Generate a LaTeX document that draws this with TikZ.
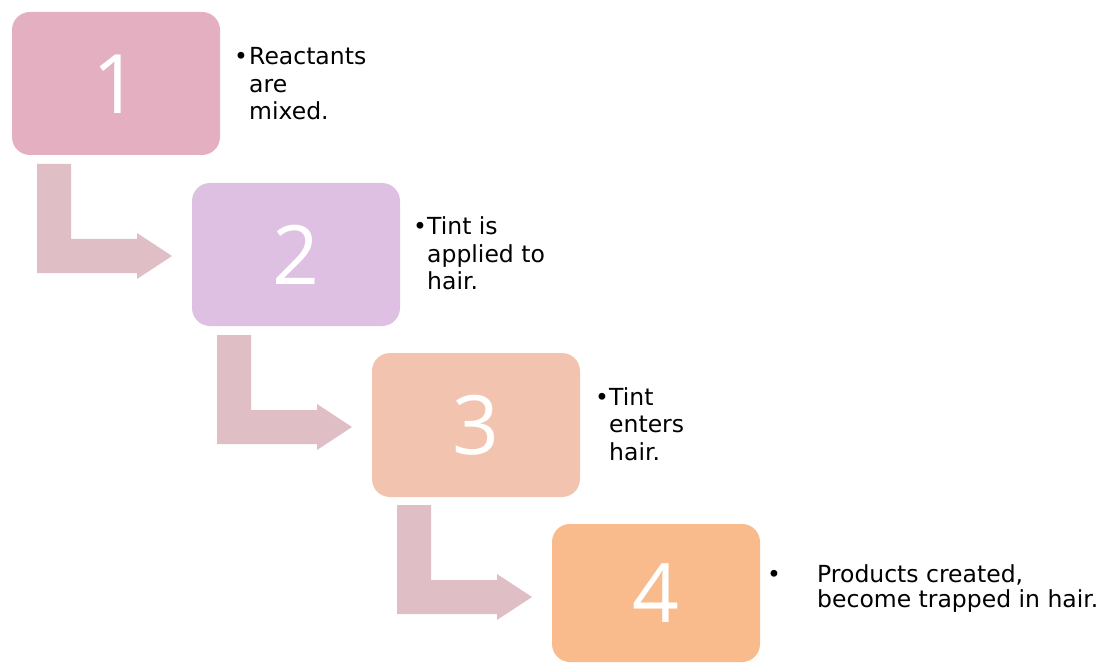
\documentclass[tikz,border=0pt]{standalone}
\usepackage{fontspec}
\setmainfont{DejaVu Sans}
\newfontfamily\digitfont{Open Sans}
\definecolor{cbox1}{HTML}{E4AFC1}
\definecolor{cbox2}{HTML}{DEC1E2}
\definecolor{cbox3}{HTML}{F2C4AF}
\definecolor{cbox4}{HTML}{F9BB8B}
\definecolor{carrow}{HTML}{DFBEC6}
\newcommand\mylines[1]{\vtop{\halign{##\hfil\cr#1\crcr}}}
\tikzset{
  numtxt/.style={text=white, font=\digitfont\fontsize{82}{82}\selectfont},
  desc/.style={anchor=base west, inner sep=0pt, font=\fontsize{23.5}{27.5}\selectfont},
  bul/.style={anchor=base west, inner sep=0pt, font=\fontsize{23.5}{27.5}\selectfont},
}
\begin{document}
\begin{tikzpicture}[x=1pt,y=-1pt]
\useasboundingbox (0,0) rectangle (1114,663);
% boxes
\fill[cbox1, rounded corners=18pt] (12,12) rectangle (220,155);
\fill[cbox2, rounded corners=18pt] (192,183) rectangle (400,326);
\fill[cbox3, rounded corners=18pt] (372,353) rectangle (580,497);
\fill[cbox4, rounded corners=18pt] (552,524) rectangle (760,662);
\node[numtxt] (n1) at (116,84) {1};
\node[numtxt] (n2) at (296,255) {2};
\node[numtxt] (n3) at (476,425) {3};
\node[numtxt] (n4) at (656,593) {4};
% bent arrows
\foreach \dx/\dy in {0/0, 180/171, 360/341} {
  \fill[carrow] (37+\dx,164+\dy) -- (71+\dx,164+\dy) -- (71+\dx,239+\dy) -- (137+\dx,239+\dy)
    -- (137+\dx,233+\dy) -- (172+\dx,256+\dy) -- (137+\dx,279+\dy) -- (137+\dx,273+\dy)
    -- (37+\dx,273+\dy) -- cycle;
}
% texts
\node[bul] (b1) at (234,65) {•};
\node[desc] (t1) at (249,65) {\mylines{Reactants\cr are\cr mixed.}};
\node[bul] (b2) at (413,235) {•};
\node[desc] (t2) at (427,235) {\mylines{Tint is\cr applied to\cr hair.}};
\node[bul] (b3) at (595,405) {•};
\node[desc] (t3) at (609,405) {\mylines{Tint\cr enters\cr hair.}};
\node[bul] (b4) at (767,582) {•};
\node[desc, font=\fontsize{23.5}{25}\selectfont] (t4) at (817,582) {\mylines{Products created,\cr become trapped in hair.}};
\end{tikzpicture}
\end{document}
